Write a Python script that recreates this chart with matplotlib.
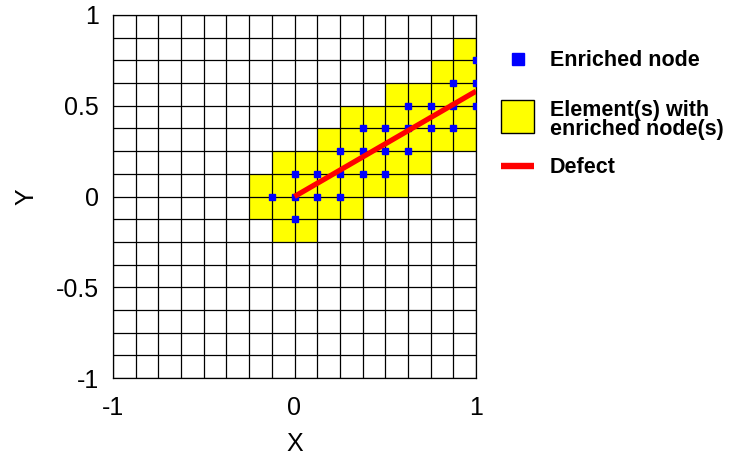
import matplotlib.pyplot as plt
import matplotlib.patches as mpatches
from matplotlib.lines import Line2D
from matplotlib.ticker import MultipleLocator

plt.rcParams['font.family'] = ['Liberation Sans', 'DejaVu Sans']
plt.rcParams['axes.unicode_minus'] = False

h = 0.125  # element size

# enriched elements, lower-left corners, one list of x per row
elem_rows = {
    0.75: [0.875],
    0.625: [0.75, 0.875],
    0.5: [0.5, 0.625, 0.75, 0.875],
    0.375: [0.25, 0.375, 0.5, 0.625, 0.75, 0.875],
    0.25: [0.125, 0.25, 0.375, 0.5, 0.625, 0.75, 0.875],
    0.125: [-0.125, 0.0, 0.125, 0.25, 0.375, 0.5, 0.625],
    0.0: [-0.25, -0.125, 0.0, 0.125, 0.25, 0.375, 0.5],
    -0.125: [-0.25, -0.125, 0.0, 0.125, 0.25],
    -0.25: [-0.125, 0.0],
}

# enriched nodes
node_x = [1.0,
          0.875, 1.0,
          0.625, 0.75, 0.875, 1.0,
          0.375, 0.5, 0.625, 0.75, 0.875,
          0.25, 0.375, 0.5, 0.625,
          0.0, 0.125, 0.25, 0.375, 0.5,
          -0.125, 0.0, 0.125, 0.25,
          0.0]
node_y = [0.75,
          0.625, 0.625,
          0.5, 0.5, 0.5, 0.5,
          0.375, 0.375, 0.375, 0.375, 0.375,
          0.25, 0.25, 0.25, 0.25,
          0.125, 0.125, 0.125, 0.125, 0.125,
          0.0, 0.0, 0.0, 0.0,
          -0.125]

# defect segment
defect_x = [0.0, 1.0]
defect_y = [0.0, 0.58]

x_ticks = [-1, 0, 1]
y_ticks = [-1, -0.5, 0, 0.5, 1]
y_ticklabels = ['-1', '-0.5', '0', '0.5', '1']

W, H = 732, 457
fig = plt.figure(figsize=(W/100, H/100), dpi=100)
ax = fig.add_axes([113/W, 79/H, 363/W, 363/H])

for y0, xs in elem_rows.items():
    for x0 in xs:
        ax.add_patch(mpatches.Rectangle((x0, y0), h, h, facecolor='#ffff00',
                                        edgecolor='none', zorder=0))

ax.plot(node_x, node_y, 's', color='#0000ff', markersize=5, zorder=3)
ax.plot(defect_x, defect_y, '-', color='#ff0000', lw=3.8, zorder=4,
        solid_capstyle='butt')

ax.set_xlim(-1, 1)
ax.set_ylim(-1, 1)
ax.set_xticks(x_ticks)
ax.set_xticklabels([str(t) for t in x_ticks])
ax.set_yticks(y_ticks)
ax.set_yticklabels(y_ticklabels)
ax.xaxis.set_minor_locator(MultipleLocator(h))
ax.yaxis.set_minor_locator(MultipleLocator(h))
ax.grid(which='both', color='black', lw=0.9, zorder=1)
ax.set_axisbelow(False)
ax.tick_params(which='both', length=0)
ax.tick_params(axis='x', labelsize=18, pad=13)
ax.tick_params(axis='y', labelsize=18, pad=10)
for s in ax.spines.values():
    s.set_linewidth(0.9)

ax.set_xlabel('X', fontsize=18)
ax.set_ylabel('Y', fontsize=18)
ax.xaxis.set_label_coords(0.5, -0.15)
ax.yaxis.set_label_coords(-0.205, 0.5)

# legend, laid out by hand in figure pixels
def fx(px):
    return px / W

def fy(py):
    return 1 - py / H

fig.add_artist(Line2D([fx(518)], [fy(59)], ls='none', marker='s',
                      color='#0000ff', markersize=8.5))
fig.add_artist(mpatches.Rectangle((fx(501), fy(133)), 33/W, 33/H,
                                  facecolor='#ffff00', edgecolor='black', lw=1))
fig.add_artist(Line2D([fx(501), fx(534)], [fy(166), fy(166)],
                      color='#ff0000', lw=4.6, solid_capstyle='butt'))

txt = dict(fontsize=15.5, fontweight='bold', va='baseline', ha='left')
fig.text(fx(550), fy(66), 'Enriched node', **txt)
fig.text(fx(550), fy(116), 'Element(s) with', **txt)
fig.text(fx(550), fy(135.5), 'enriched node(s)', **txt)
fig.text(fx(550), fy(173), 'Defect', **txt)

fig.savefig('out.png', dpi=100)
